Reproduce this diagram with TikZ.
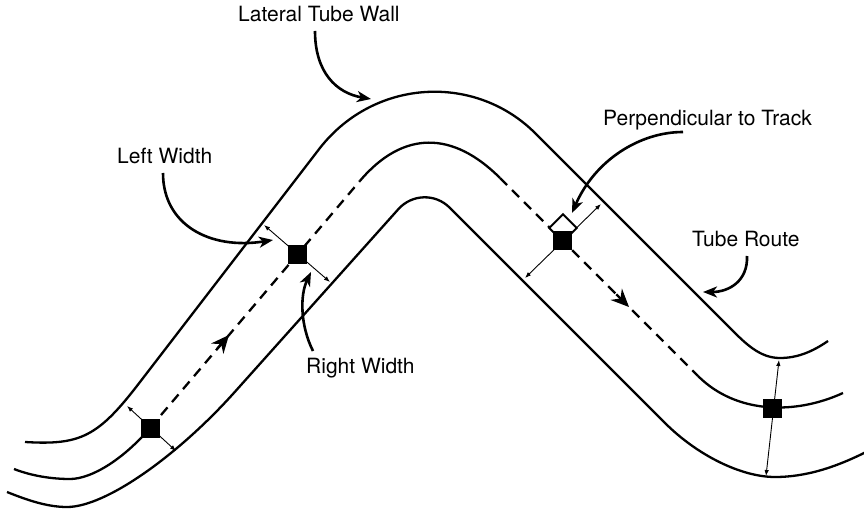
\documentclass[tikz,border=0pt]{standalone}
\usepackage{fontspec}
\setmainfont{TeX Gyre Heros}
\usetikzlibrary{arrows.meta}
\begin{document}
\begin{tikzpicture}[x=1pt,y=-1pt,
  wall/.style={line width=2.3pt},
  track/.style={line width=2.3pt, dash pattern=on 10pt off 7pt},
  callout/.style={line width=2.6pt, -{Stealth[length=14pt,width=11pt,inset=4pt]}},
  widtharrow/.style={line width=0.9pt, {Latex[length=6pt,width=4.5pt]}-{Latex[length=6pt,width=4.5pt]}},
  blocksq/.style={fill=black, minimum size=19pt, inner sep=0pt},
  rightangle/.style={draw, fill=white, line width=2pt, minimum size=19.5pt, inner sep=0pt, rotate=45},
  lbl/.style={font=\fontsize{21}{25}\selectfont, inner sep=0pt, anchor=base west},
  dirhead/.style={line width=2.3pt, -{Stealth[length=18pt,width=16pt,inset=6pt]}}
]
\useasboundingbox (0,0) rectangle (864,510);

% outer (lateral) tube wall
\draw[wall] (25,442) .. controls (81,445.4) and (98.4,436.4) .. (140,382)
  -- (320.1,147.8) .. controls (375,78) and (476,73.4) .. (535.8,133.8)
  -- (735,333) .. controls (750,348) and (763,358) .. (780,358)
  .. controls (797,358) and (812,352) .. (828,341);

% middle: tube route / track
\draw[wall] (14,469) .. controls (32,476) and (52,479) .. (70,479)
  .. controls (92,479) and (124.1,458.5) .. (150,428);
\draw[track] (150,428) -- (360,180.8);
\draw[wall] (360,180.8) .. controls (403.2,130) and (452.8,130.8) .. (500,178);
\draw[track] (500,178) -- (698,376);
\draw[wall] (698,376) .. controls (736,414) and (795,415) .. (843,393);

% inner tube wall
\draw[wall] (7,492) .. controls (27,500) and (47,507) .. (67,507)
  .. controls (106,507) and (178.3,455.1) .. (235,391.7)
  -- (398.5,209) .. controls (412,194) and (435.3,193.3) .. (449.6,207.6)
  -- (665,423) .. controls (697.4,455.4) and (741.4,477) .. (775,477)
  .. controls (805,477) and (835,468) .. (870,450);

% direction heads on the track
\coordinate (d1a) at (217.3,348.7); \coordinate (d1b) at (229,335);
\draw[dirhead] (d1a) -- (d1b);
\coordinate (d2a) at (616.3,294.3); \coordinate (d2b) at (629,307);
\draw[dirhead] (d2a) -- (d2b);

% width arrows
\coordinate (w0a) at (127,406); \coordinate (w0b) at (176,451);
\coordinate (w1a) at (264,225); \coordinate (w1b) at (330,282);
\coordinate (w2a) at (601,204); \coordinate (w2b) at (525,278);
\coordinate (w3a) at (779,360); \coordinate (w3b) at (766,476);
\draw[widtharrow] (w0a) -- (w0b);
\draw[widtharrow] (w1a) -- (w1b);
\draw[widtharrow] (w2a) -- (w2b);
\draw[widtharrow] (w3a) -- (w3b);

% right-angle marker and blocks
\node[rightangle] (perp) at (563,228) {};
\node[blocksq] (s0) at (150,428) {};
\node[blocksq] (s2) at (297,255) {};
\node[blocksq] (s3) at (562,241) {};
\node[blocksq] (s4) at (772,408) {};

% labels
\node[lbl] (lat) at (238,22) {Lateral Tube Wall};
\node[lbl] (lw) at (117,164) {Left Width};
\node[lbl] (rw) at (306,373) {Right Width};
\node[lbl] (pt) at (603,126) {Perpendicular to Track};
\node[lbl] (tr) at (692,247) {Tube Route};

% callout arrows
\coordinate (latS) at (315,31); \coordinate (latE) at (371,99);
\draw[callout] (latS) .. controls (315,72) and (336,93) .. (latE);
\coordinate (lwS) at (163,173); \coordinate (lwE) at (273,240);
\draw[callout] (lwS) .. controls (163,225) and (210,250) .. (lwE);
\coordinate (rwS) at (313,351); \coordinate (rwE) at (311,272);
\draw[callout] (rwS) .. controls (300,325) and (300,295) .. (rwE);
\coordinate (ptS) at (683,132); \coordinate (ptE) at (572,213);
\draw[callout] (ptS) .. controls (640,132) and (595,160) .. (ptE);
\coordinate (trS) at (747,256); \coordinate (trE) at (703,292);
\draw[callout] (trS) .. controls (748,281) and (729,292) .. (trE);
\end{tikzpicture}
\end{document}
